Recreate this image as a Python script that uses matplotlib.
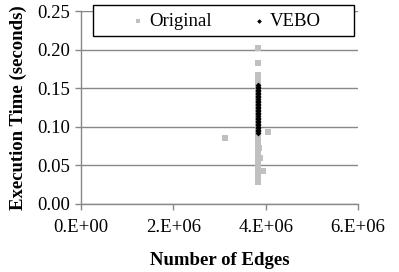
import matplotlib.pyplot as plt
from matplotlib.patches import Rectangle

# Original runs: edges vs execution time
orig_edges = [3.83e6] * 36 + [3.85e6, 3.87e6, 3.84e6, 3.94e6, 3.12e6, 4.05e6]
orig_time = [0.202, 0.183, 0.167, 0.162, 0.158, 0.154, 0.150, 0.146, 0.142, 0.138,
             0.134, 0.130, 0.126, 0.122, 0.118, 0.114, 0.110, 0.106, 0.102, 0.098,
             0.094, 0.090, 0.086, 0.082, 0.078, 0.074, 0.070, 0.066, 0.062, 0.058,
             0.054, 0.050, 0.046, 0.040, 0.034, 0.028,
             0.072, 0.060, 0.048, 0.043, 0.086, 0.093]

# VEBO runs
vebo_edges = [3.83e6] * 32
vebo_time = [0.154, 0.152, 0.150, 0.148, 0.146, 0.144, 0.142, 0.140, 0.138, 0.136,
             0.134, 0.132, 0.130, 0.128, 0.126, 0.124, 0.122, 0.120, 0.118, 0.116,
             0.114, 0.112, 0.110, 0.108, 0.106, 0.104, 0.102, 0.100, 0.098, 0.096,
             0.094, 0.092]

xticks = [0, 2e6, 4e6, 6e6]
xtick_labels = ["0.E+00", "2.E+06", "4.E+06", "6.E+06"]
yticks = [0.00, 0.05, 0.10, 0.15, 0.20, 0.25]

plt.rcParams['font.family'] = 'Liberation Serif'

fig = plt.figure(figsize=(3.99, 2.72), dpi=100)
ax = fig.add_axes([81 / 399, 68 / 272, 277 / 399, 193 / 272])

ax.scatter(orig_edges, orig_time, marker='s', s=14, color='#c0c0c0',
           linewidths=0, label='Original', zorder=3)
ax.scatter(vebo_edges, vebo_time, marker='D', s=9, color='black',
           linewidths=0, label='VEBO', zorder=4)

ax.set_xlim(0, 6e6)
ax.set_ylim(0, 0.25)
ax.set_xticks(xticks)
ax.set_xticklabels(xtick_labels)
ax.set_yticks(yticks)
ax.set_yticklabels(["%.2f" % v for v in yticks])
ax.tick_params(labelsize=13.5, color='#888888', length=4, width=1)
ax.tick_params(axis='x', pad=7)
ax.tick_params(axis='y', pad=4)

ax.yaxis.grid(True, color='#888888', linewidth=1)
ax.set_axisbelow(True)
for s in ['top', 'right']:
    ax.spines[s].set_visible(False)
for s in ['left', 'bottom']:
    ax.spines[s].set_color('#888888')
    ax.spines[s].set_linewidth(1)

ax.set_xlabel('Number of Edges', fontsize=13.5, fontweight='bold', labelpad=11)
ax.set_ylabel('Execution Time (seconds)', fontsize=13.5, fontweight='bold', labelpad=7)

# legend box (white, black border) over the top of the plot
box = Rectangle((93 / 399, 236 / 272), 261 / 399, 31 / 272, transform=fig.transFigure,
                facecolor='white', edgecolor='black', linewidth=1, zorder=10)
fig.patches.append(box)

leg = fig.legend(loc='center', bbox_to_anchor=(225 / 399, 251 / 272), ncol=2,
                 fontsize=13.5, frameon=False, handletextpad=0.1, handlelength=1.0,
                 columnspacing=2.0, borderaxespad=0, markerscale=0.8)
leg.set_zorder(11)

fig.savefig('out.png', dpi=100)
